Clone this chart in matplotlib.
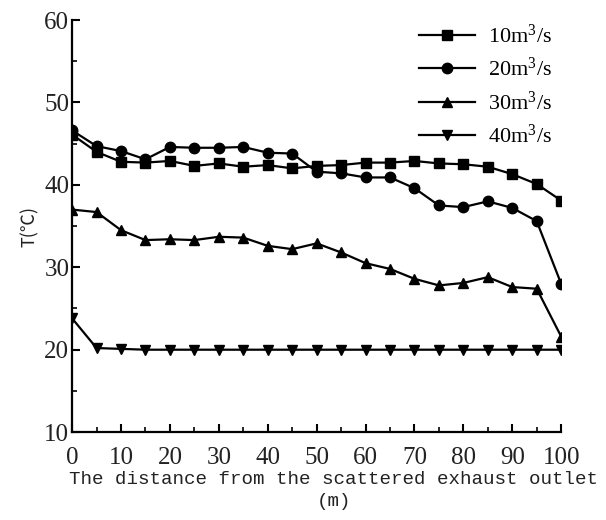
import matplotlib
matplotlib.use("Agg")
import matplotlib.pyplot as plt
from matplotlib.ticker import MultipleLocator

x = list(range(0, 101, 5))
s10 = [46.1, 44.0, 42.8, 42.7, 42.9, 42.3, 42.6, 42.2, 42.4, 42.0, 42.3,
       42.4, 42.7, 42.7, 42.9, 42.6, 42.5, 42.2, 41.3, 40.1, 38.1]
s20 = [46.6, 44.7, 44.1, 43.1, 44.6, 44.5, 44.5, 44.6, 43.9, 43.8, 41.6,
       41.4, 40.9, 40.9, 39.6, 37.5, 37.3, 38.0, 37.2, 35.6, 28.0]
s30 = [37.0, 36.7, 34.5, 33.3, 33.4, 33.3, 33.7, 33.6, 32.6, 32.2, 32.9,
       31.8, 30.5, 29.8, 28.6, 27.8, 28.1, 28.8, 27.6, 27.4, 21.6]
s40 = [23.8, 20.2, 20.1, 20.0, 20.0, 20.0, 20.0, 20.0, 20.0, 20.0, 20.0,
       20.0, 20.0, 20.0, 20.0, 20.0, 20.0, 20.0, 20.0, 20.0, 20.0]
labels = ["10m$^3$/s", "20m$^3$/s", "30m$^3$/s", "40m$^3$/s"]
markers = ["s", "o", "^", "v"]

plt.rcParams['mathtext.fontset'] = 'custom'
plt.rcParams['mathtext.rm'] = 'Liberation Serif'
plt.rcParams['mathtext.it'] = 'Liberation Serif'
plt.rcParams['font.family'] = ['Liberation Serif', 'DejaVu Serif']

fig = plt.figure(figsize=(6.06, 5.2), dpi=100)
ax = fig.add_axes([0.119, 0.169, 0.807, 0.7925])

for ys, m, lab in zip([s10, s20, s30, s40], markers, labels):
    ax.plot(x, ys, color='black', marker=m, markersize=7.5, linewidth=1.6, label=lab)

ax.set_xlim(0, 100)
ax.set_ylim(10, 60)
ax.xaxis.set_major_locator(MultipleLocator(10))
ax.xaxis.set_minor_locator(MultipleLocator(5))
ax.yaxis.set_major_locator(MultipleLocator(10))
ax.yaxis.set_minor_locator(MultipleLocator(5))
ax.tick_params(which='major', direction='in', length=6, width=1.5, labelsize=18, colors='black')
ax.tick_params(which='minor', direction='in', length=3.5, width=1.2)
ax.tick_params(axis='x', which='major', pad=11, labelcolor='#222222')
ax.tick_params(axis='y', which='major', pad=2, labelcolor='#222222')
for sp in ['top', 'right']:
    ax.spines[sp].set_visible(False)
for sp in ['left', 'bottom']:
    ax.spines[sp].set_linewidth(1.6)

ax.set_xlabel("The distance from the scattered exhaust outlet\n(m)",
              family=['Liberation Mono', 'DejaVu Sans Mono'], fontsize=13.8,
              linespacing=1.35, color='#222222')
ax.xaxis.set_label_coords(0.535, -0.095, transform=ax.transAxes)
ax.xaxis.label.set_verticalalignment('top')
ax.set_ylabel("T(℃)", family=['Noto Sans CJK SC', 'DejaVu Sans'], fontsize=13, color='#222222', labelpad=4)

leg = ax.legend(loc='upper right', bbox_to_anchor=(1.0, 1.01), frameon=False,
                fontsize=16, handlelength=2.5, labelspacing=0.45, handletextpad=0.6,
                borderaxespad=0.0)

fig.savefig("out.png", dpi=100)
